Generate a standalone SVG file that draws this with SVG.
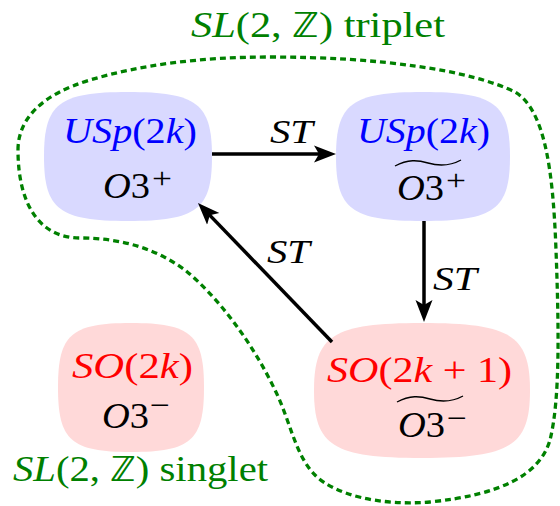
<svg xmlns="http://www.w3.org/2000/svg" width="560" height="506" viewBox="0 0 560 506">
<style>
text{font-family:'Liberation Serif', serif}
.blue{fill:#0000ff}
.red{fill:#ff0000}
.blk{fill:#000}
.grn{fill:#008000}
.bfill{fill:#d9d9ff}
.rfill{fill:#ffd9d9}
.tilde{fill:none;stroke:#000;stroke-width:1.4}
.edge{fill:none;stroke:#000;stroke-width:3.5}
</style>
<defs>
<marker id="ah" markerUnits="userSpaceOnUse" viewBox="0 -9 23 18" markerWidth="23" markerHeight="18" refX="10" refY="0" orient="auto">
<path d="M0,-8.5 L22,0 L0,8.5 L5,0 Z" fill="#000"/>
</marker>
</defs>
<rect width="560" height="506" fill="#fff"/>

<g id="triplet-boundary">
<path d="M18,150 C18,120 40,95 90,80 C140,65 200,57 270,57 C380,57 470,70 515,92 C545,110 553,170 556,250 C559,330 560,400 550,440 C540,475 500,495 430,502 C380,506 335,495 315,475 C295,455 290,420 275,390 C252,342 218,297 185,270 C155,248 120,238 80,238 C40,238 18,205 18,150 Z" fill="none" stroke="#008000" stroke-width="3.3" stroke-dasharray="6 4"/>
<text class="grn" font-family="Liberation Serif, DejaVu Serif, serif" font-size="35" x="191" y="37" textLength="254" lengthAdjust="spacingAndGlyphs"><tspan font-style="italic">SL</tspan>(2, ℤ) triplet</text>
</g>

<g id="singlet-label">
<text class="grn" font-family="Liberation Serif, DejaVu Serif, serif" font-size="35" x="13" y="481" textLength="255" lengthAdjust="spacingAndGlyphs"><tspan font-style="italic">SL</tspan>(2, ℤ) singlet</text>
</g>

<g id="node-usp-o3plus">
<path class="bfill" d="M128,92 C196.9,92 212,103.6 212,156.5 C212,209.4 196.9,221 128,221 C59.1,221 44,209.4 44,156.5 C44,103.6 59.1,92 128,92Z"/>
<text class="blue" font-family="Liberation Serif, serif" font-size="36" x="63" y="143" textLength="134" lengthAdjust="spacingAndGlyphs"><tspan font-style="italic">USp</tspan>(2<tspan font-style="italic">k</tspan>)</text>
<text class="blk" font-family="Liberation Serif, serif" font-size="36" x="103" y="198" textLength="47" lengthAdjust="spacingAndGlyphs"><tspan font-style="italic">O</tspan>3</text>
<text class="blk" font-family="Liberation Serif, serif" font-size="30" x="152" y="188" textLength="20" lengthAdjust="spacingAndGlyphs">+</text>
</g>

<g id="node-usp-o3plus-tilde">
<path class="bfill" d="M423,92 C494.3,92 510,103.6 510,156.5 C510,209.4 494.3,221 423,221 C351.7,221 336,209.4 336,156.5 C336,103.6 351.7,92 423,92Z"/>
<text class="blue" font-family="Liberation Serif, serif" font-size="36" x="357" y="143" textLength="133" lengthAdjust="spacingAndGlyphs"><tspan font-style="italic">USp</tspan>(2<tspan font-style="italic">k</tspan>)</text>
<path class="tilde" d="M395,166 C408,159 418,160 428,163 C438,166 450,166 461,160"/>
<text class="blk" font-family="Liberation Serif, serif" font-size="36" x="397" y="200" textLength="47" lengthAdjust="spacingAndGlyphs"><tspan font-style="italic">O</tspan>3</text>
<text class="blk" font-family="Liberation Serif, serif" font-size="30" x="446" y="190" textLength="20" lengthAdjust="spacingAndGlyphs">+</text>
</g>

<g id="node-so2k1-o3minus-tilde">
<path class="rfill" d="M422,323 C510.6,323 530,335.1 530,390.5 C530,445.9 510.6,458 422,458 C333.4,458 314,445.9 314,390.5 C314,335.1 333.4,323 422,323Z"/>
<text class="red" font-family="Liberation Serif, serif" font-size="36" x="327" y="382" textLength="185" lengthAdjust="spacingAndGlyphs"><tspan font-style="italic">SO</tspan>(2<tspan font-style="italic">k</tspan> + 1)</text>
<path class="tilde" d="M397,402 C410,395 420,396 430,399 C440,402 452,402 463,396"/>
<text class="blk" font-family="Liberation Serif, serif" font-size="36" x="398" y="437" textLength="47" lengthAdjust="spacingAndGlyphs"><tspan font-style="italic">O</tspan>3</text>
<text class="blk" font-family="Liberation Serif, serif" font-size="30" x="447" y="428" textLength="20" lengthAdjust="spacingAndGlyphs">−</text>
</g>

<g id="node-so2k-o3minus">
<path class="rfill" d="M131,323 C190.9,323 204,334.6 204,387.5 C204,440.4 190.9,452 131,452 C71.1,452 58,440.4 58,387.5 C58,334.6 71.1,323 131,323Z"/>
<text class="red" font-family="Liberation Serif, serif" font-size="36" x="72" y="378" textLength="121" lengthAdjust="spacingAndGlyphs"><tspan font-style="italic">SO</tspan>(2<tspan font-style="italic">k</tspan>)</text>
<text class="blk" font-family="Liberation Serif, serif" font-size="36" x="102" y="428" textLength="47" lengthAdjust="spacingAndGlyphs"><tspan font-style="italic">O</tspan>3</text>
<text class="blk" font-family="Liberation Serif, serif" font-size="30" x="150" y="415" textLength="20" lengthAdjust="spacingAndGlyphs">−</text>
</g>

<g id="connectors">
<path class="edge" d="M212,154 L324,154" marker-end="url(#ah)"/>
<text class="blk" font-family="Liberation Serif, serif" font-size="34" font-style="italic" x="270" y="143" textLength="43" lengthAdjust="spacingAndGlyphs">ST</text>
<path class="edge" d="M424,221 L424,310" marker-end="url(#ah)"/>
<text class="blk" font-family="Liberation Serif, serif" font-size="34" font-style="italic" x="433" y="290" textLength="44" lengthAdjust="spacingAndGlyphs">ST</text>
<path class="edge" d="M332,342 L206.3,211.6" marker-end="url(#ah)"/>
<text class="blk" font-family="Liberation Serif, serif" font-size="34" font-style="italic" x="267" y="263" textLength="43" lengthAdjust="spacingAndGlyphs">ST</text>
</g>
</svg>
